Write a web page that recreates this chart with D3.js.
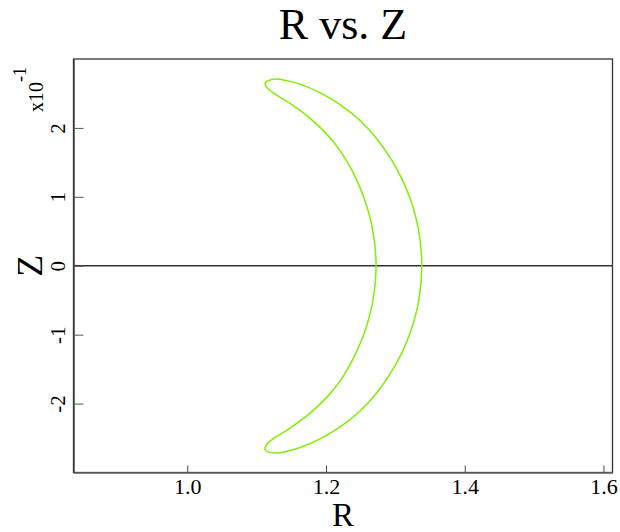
<!DOCTYPE html>
<html>
<head>
<meta charset="utf-8">
<script src="https://cdn.jsdelivr.net/npm/d3@7"></script>
<style>
  body { margin: 0; background: #fff; }
  text { font-family: "Liberation Serif", "Times New Roman", serif; fill: #000; }
</style>
</head>
<body>
<div id="chart"></div>
<script>
const width = 620;
const height = 532;
const margin = { top: 59, right: 7.5, bottom: 59.5, left: 73.5 };

// boundary of the cross-section, walked once round (R, Z)
const rValues = [
    1.112, 1.1165, 1.129, 1.1434, 1.1626, 1.1914, 1.2203, 1.2491, 1.2732, 1.2924,
    1.3093, 1.3221, 1.3335, 1.3381, 1.3335, 1.3221, 1.3093, 1.2924, 1.2732, 1.2491,
    1.2203, 1.1914, 1.1626, 1.1434, 1.129, 1.1165, 1.112, 1.115, 1.1241, 1.1482,
    1.177, 1.2011, 1.2203, 1.2347, 1.2419, 1.2560, 1.2674, 1.2722, 1.2674, 1.2560,
    1.2419, 1.2347, 1.2203, 1.2011, 1.177, 1.1482, 1.1241, 1.115
];
const zValues = [
    0.2647, 0.2686, 0.2710, 0.2686, 0.2635, 0.2512, 0.2339, 0.2108, 0.1843, 0.1569,
    0.1265, 0.0952, 0.0518, 0, -0.0518, -0.0952, -0.1265, -0.1569, -0.1843, -0.2108,
    -0.2339, -0.2512, -0.2637, -0.2692, -0.2718, -0.2700, -0.2665, -0.2590, -0.2508, -0.2355,
    -0.2139, -0.1910, -0.1670, -0.1433, -0.1294, -0.0952, -0.0518, 0, 0.0518, 0.0952,
    0.1294, 0.1433, 0.1670, 0.1910, 0.2139, 0.2355, 0.2507, 0.2585
];

const xTicks = [1.0, 1.2, 1.4, 1.6];
const yTicks = [-0.2, -0.1, 0, 0.1, 0.2];
const yTickLabels = ["-2", "-1", "0", "1", "2"];
const xDomain = [0.836, 1.613];
const yDomain = [-0.3, 0.3];

const svg = d3.select("#chart")
    .append("svg")
    .attr("width", width)
    .attr("height", height);

const x = d3.scaleLinear().domain(xDomain).range([margin.left, width - margin.right]);
const y = d3.scaleLinear().domain(yDomain).range([height - margin.bottom, margin.top]);

// frame
svg.append("rect")
    .attr("x", x.range()[0])
    .attr("y", y.range()[1])
    .attr("width", x.range()[1] - x.range()[0])
    .attr("height", y.range()[0] - y.range()[1])
    .attr("fill", "none")
    .attr("stroke", "#333")
    .attr("stroke-width", 1.3);

// zero line
svg.append("line")
    .attr("x1", x.range()[0])
    .attr("x2", x.range()[1])
    .attr("y1", y(0))
    .attr("y2", y(0))
    .attr("stroke", "#333")
    .attr("stroke-width", 1.3);

// x axis, ticks pointing inward
const xAxis = svg.append("g")
    .attr("transform", `translate(0,${y.range()[0]})`)
    .call(d3.axisBottom(x).tickValues(xTicks).tickSizeInner(-7).tickSizeOuter(0)
        .tickPadding(6).tickFormat(d3.format(".1f")));
xAxis.select(".domain").attr("stroke", "#666").attr("stroke-width", 1.3);
xAxis.selectAll(".tick line").attr("stroke", "#444");
xAxis.selectAll(".tick text")
    .style("font-family", "Liberation Serif, serif")
    .style("font-size", "22px")
    .attr("fill", "#000");

// y axis, labels rotated
const yAxis = svg.append("g")
    .attr("transform", `translate(${x.range()[0]},0)`)
    .call(d3.axisLeft(y).tickValues(yTicks).tickSizeInner(-10).tickSizeOuter(0)
        .tickFormat((d, i) => yTickLabels[i]));
yAxis.select(".domain").attr("stroke", "#333").attr("stroke-width", 1.3);
yAxis.selectAll(".tick line").attr("stroke", "#555");
yAxis.selectAll(".tick text")
    .style("font-family", "Liberation Serif, serif")
    .style("font-size", "21px")
    .attr("fill", "#000")
    .attr("x", null)
    .attr("dy", null)
    .attr("text-anchor", "middle")
    .attr("transform", "translate(-9,0) rotate(-90)");

// boundary curve
const points = rValues.map((r, i) => [r, zValues[i]]);
const line = d3.line()
    .x(d => x(d[0]))
    .y(d => y(d[1]))
    .curve(d3.curveCatmullRomClosed.alpha(0.5));

svg.append("path")
    .datum(points)
    .attr("d", line)
    .attr("fill", "none")
    .attr("stroke", "#7ff000")
    .attr("stroke-width", 1.5);

// titles
svg.append("text")
    .attr("x", (x.range()[0] + x.range()[1]) / 2)
    .attr("y", 39)
    .attr("text-anchor", "middle")
    .attr("font-size", 44)
    .text("R vs. Z");

svg.append("text")
    .attr("x", (x.range()[0] + x.range()[1]) / 2)
    .attr("y", 526)
    .attr("text-anchor", "middle")
    .attr("font-size", 33)
    .text("R");

svg.append("text")
    .attr("transform", `translate(42,${y(0)}) rotate(-90)`)
    .attr("text-anchor", "middle")
    .attr("font-size", 36)
    .text("Z");

const mult = svg.append("text")
    .attr("transform", "translate(43,112) rotate(-90)")
    .attr("font-size", 20);
mult.append("tspan").text("x10");
mult.append("tspan").attr("dy", -17).attr("font-size", 18).text("-1");
</script>
</body>
</html>
